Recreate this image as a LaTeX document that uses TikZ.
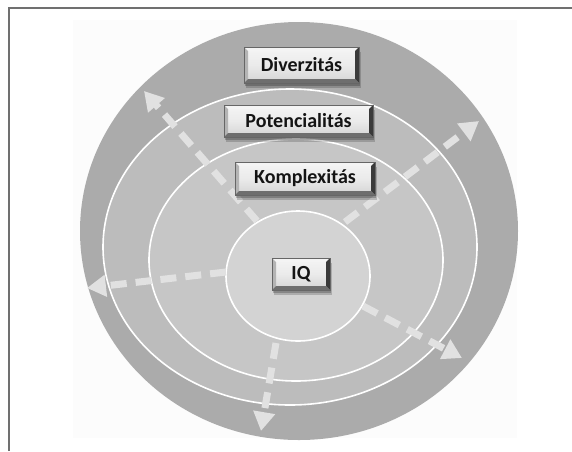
\documentclass[tikz,border=0pt]{standalone}
\usepackage{fontspec}
\setmainfont{Carlito}
\usetikzlibrary{arrows.meta}

% palette
\definecolor{bandA}{HTML}{ABABAB}
\definecolor{bandB}{HTML}{BCBCBC}
\definecolor{bandC}{HTML}{C6C6C6}
\definecolor{core}{HTML}{D3D3D3}
\definecolor{flow}{HTML}{E1E1E1}
\definecolor{framegray}{HTML}{707070}
\definecolor{paper}{HTML}{FCFCFC}
\definecolor{bevTop}{HTML}{F4F4F4}
\definecolor{bevLeft}{HTML}{B4B4B4}
\definecolor{bevRight}{HTML}{3A3A3A}
\definecolor{bevBottom}{HTML}{6E6E6E}

\tikzset{
  ring/.style={draw=white, line width=1.6pt},
  flowarrow/.style={draw=flow, line width=7pt, dash pattern=on 16pt off 9pt,
    -{Triangle[width=21pt,length=19pt]}},
  bevel/.style={path picture={
    \path (path picture bounding box.north west) coordinate (bnw)
          (path picture bounding box.north east) coordinate (bne)
          (path picture bounding box.south west) coordinate (bsw)
          (path picture bounding box.south east) coordinate (bse);
    \fill[bevTop] (bnw) -- (bne) -- ([shift={(-4pt,-4pt)}]bne) -- ([shift={(4pt,-4pt)}]bnw) -- cycle;
    \fill[bevLeft] (bnw) -- ([shift={(4pt,-4pt)}]bnw) -- ([shift={(4pt,4pt)}]bsw) -- (bsw) -- cycle;
    \fill[bevRight] (bne) -- (bse) -- ([shift={(-4pt,4pt)}]bse) -- ([shift={(-4pt,-4pt)}]bne) -- cycle;
    \fill[bevBottom] (bsw) -- ([shift={(4pt,4pt)}]bsw) -- ([shift={(-4pt,4pt)}]bse) -- (bse) -- cycle;
  }},
  btn/.style={rectangle, inner sep=0pt, bevel,
    top color=gray!8, bottom color=gray!34, middle color=gray!16,
    draw=black!60, line width=0.6pt,
    preaction={fill=black, opacity=0.18, transform canvas={shift={(2pt,-5pt)}}},
    preaction={fill=black, opacity=0.22, transform canvas={shift={(1pt,-3pt)}}},
    font=\bfseries\fontsize{20}{23}\selectfont, text=black!92}
}

\begin{document}
\begin{tikzpicture}[x=1pt,y=-1pt]
\useasboundingbox (0,0) rectangle (572,451);
\fill[white] (0,0) rectangle (572,451);
\fill[paper] (73,20) rectangle (517,438);
\draw[framegray, line width=2pt] (8.5,451) -- (8.5,8) -- (572,8);

% nested discs
\fill[bandA] (299,231) ellipse [x radius=219pt, y radius=209pt];
\filldraw[ring, fill=bandB] (290,247) ellipse [x radius=187pt, y radius=158pt];
\filldraw[ring, fill=bandC] (296,260) ellipse [x radius=147pt, y radius=121pt];
\filldraw[ring, fill=core] (298,276) ellipse [x radius=72pt, y radius=65pt];

% arrow end points
\coordinate (s1) at (257,221); \coordinate (t1) at (144,91);
\coordinate (s2) at (345,222); \coordinate (t2) at (479,121);
\coordinate (s3) at (226,272); \coordinate (t3) at (87,288);
\coordinate (s4) at (363,306); \coordinate (t4) at (462,358);
\coordinate (s5) at (276,343); \coordinate (t5) at (261,431);

\draw[flowarrow] (s1) -- (t1);
\draw[flowarrow] (s2) -- (t2);
\draw[flowarrow] (s3) -- (t3);
\draw[flowarrow] (s4) -- (t4);
\draw[flowarrow] (s5) -- (t5);

% labels
\node[btn, minimum width=115pt, minimum height=36pt] (div) at (301.5,65) {Diverzitás};
\node[btn, minimum width=149pt, minimum height=32pt] (pot) at (298.5,121) {Potencialitás};
\node[btn, minimum width=140pt, minimum height=33pt] (kom) at (305,178.5) {Komplexitás};
\node[btn, minimum width=58pt, minimum height=32pt] (iq) at (301,274) {IQ};
\end{tikzpicture}
\end{document}
